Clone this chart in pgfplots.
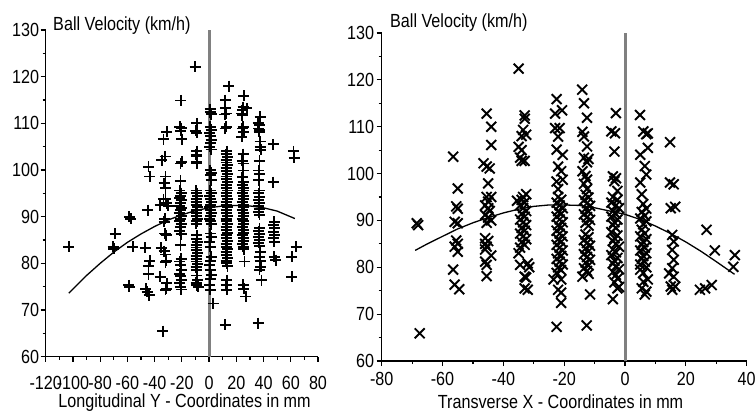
\documentclass[border=0pt]{standalone}
\usepackage{fontspec}
\setmainfont{Liberation Sans}[FakeStretch=0.85]
\usepackage{pgfplots}
\pgfplotsset{compat=1.18}
\definecolor{zerogray}{RGB}{128,128,128}
\newcommand{\bigf}{\fontsize{19bp}{22bp}\selectfont}
\begin{document}
\bigf
\begin{tikzpicture}
\path[use as bounding box] (0,0) rectangle (755bp,412bp);
\pgfplotsset{
  myax/.style={
    scale only axis,
    axis lines=left,
    axis line style={-, line width=1.5bp, black},
    tick align=outside,
    major tick length=5bp,
    minor tick length=3bp,
    every tick/.style={black, line width=1.2bp},
    /pgf/number format/assume math mode=true,
    tick label style={font=\bigf},
    label style={font=\bigf},
    ymin=60, ymax=130,
    ytick={60,70,...,130},
    minor y tick num=1,
    minor x tick num=1,
    clip=false,
  },
}
% ---------------- left panel ----------------
\begin{axis}[myax,
  at={(45.7bp,55.3bp)}, anchor=south west,
  width=272.3bp, height=326.7bp,
  xmin=-120, xmax=80,
  xtick={-120,-100,...,80},
  xticklabel style={yshift=-8bp},
  yticklabel style={xshift=5bp},
  xlabel={Longitudinal Y - Coordinates in mm},
  xlabel style={at={(axis description cs:0.51,-0.154)}, anchor=base},
]
\addplot[zerogray, line width=3bp] coordinates {(0,60) (0,130)};
\addplot[only marks, mark=+, mark size=5.5bp, mark options={line width=1.9bp, black}] coordinates {
(-103,83.6)
(-69,86.3) (-70.5,83.6) (-70,83.1)
(-58.5,90) (-57.5,89.6) (-56,83.6) (-59,75.3) (-58.5,75)
(-45,91.4) (-47,83.3) (-43.5,80.6) (-44.5,79.5) (-44.5,77.7) (-46.5,74.6) (-45.5,73.9) (-44,73.2) (-44.5,100.7) (-43.5,98.6)
(-36,92.5) (-31,92.9) (-30,92.3) (-33,88.9) (-32.5,89.6) (-32.5,86.4) (-32,86.2) (-31.5,86) (-35,83.3) (-33,82.6) (-32,81.9) (-31.5,80.6) (-32,80.2) (-36,77.1) (-31,75.7) (-31.5,74.6) (-32,74.3) (-34,65.5) (-31,108.2) (-33.5,106.6) (-32.3,102.9) (-34.8,102.1) (-32,98.6) (-33,97.2) (-32,96.1) (-33.5,93.7) (-32,93.7)
(-20.8,114.9) (-21.5,109.3) (-20.5,109) (-21,108.4) (-20,106.6) (-21,101.4) (-20,101.8) (-21,97.7) (-21.5,95.6) (-20.5,95) (-21,94.5) (-21.5,94) (-20.5,93.6) (-21,93) (-21.5,92.3) (-20.5,91.8) (-21,91.4) (-22,90.7) (-20.5,90.2) (-21,89.6) (-21.5,89) (-20.5,88.5) (-21,87.8) (-21.5,87) (-20.5,86.2) (-21,83.9) (-20.5,81) (-21.5,80.4) (-21,79.6) (-20.5,78.6) (-21.5,77.8) (-21,77.2) (-20.5,76.5) (-21.5,75.8) (-21,75) (-20.5,74.4)
(-10.3,122.1) (-9,110) (-10,108.4) (-9,108) (-9,104) (-9.5,103.3) (-9,102.9) (-9,101.8) (-9,101.4) (-9.5,95.6) (-9,95) (-8.5,94.4) (-9,93.8) (-9.5,93.2) (-9,92.6) (-8.5,92) (-9,91.4) (-9.5,90.8) (-9,90.2) (-8.5,89.6) (-9,89) (-9.5,88.5) (-9,86) (-9,85.3) (-8.5,84.6) (-9.5,84) (-9,83.4) (-9,82.8) (-8.5,82.2) (-9.5,81.6) (-9,81) (-9,80.4) (-8.5,79.8) (-9.5,79.2) (-9,78.6) (-9,77.4) (-8.5,76.4) (-9.5,75.8) (-9,75.3) (-8,75)
(0.7,113) (1,112.4) (1.5,112) (1,109.3) (1.5,108.6) (0.5,107.9) (1,107.2) (1.5,106.4) (1,105.7) (0.5,105) (1.5,104.4) (1,100) (1.5,99.4) (1,98.9) (1.5,97.8) (1,95.6) (1.5,95) (0.5,94.4) (1,93.8) (1.5,93.2) (1,92.6) (0.5,92) (1,91.4) (1.5,90.8) (1,90.2) (0.5,89.6) (1,89) (1.5,88.4) (1,86.4) (1.5,85.6) (0.5,84.6) (1,83.6) (1.5,81.4) (1,80.6) (0.5,79.6) (1,78.6) (1.5,77.6) (1,76.6) (0.5,75.4) (1,74.3) (3,71.4)
(14.6,118) (12,115) (12,113.2) (12.5,112.1) (11.5,111.9) (12.5,109.3) (12,108.9) (13,104) (12.5,103.4) (13.5,102.8) (12.5,102.2) (13,101.6) (13.5,101) (12.5,100.4) (13,99.8) (13.5,99.2) (12.5,98.6) (13,98) (13.5,97.4) (12.5,96.8) (13,96.2) (13.5,95.6) (12.5,95) (13,94.4) (13.5,93.8) (12.5,93.2) (13,92.6) (13.5,92) (12.5,91.4) (13,90.8) (13.5,90.2) (12.5,89.6) (13,89) (13.5,88.4) (12.5,87.8) (13,87.2) (13.5,86.6) (12.5,86) (13,85.4) (13.5,84.8) (12.5,84.2) (13,83.6) (13.5,83) (12.5,82.4) (13,81.8) (13.5,81.2) (12.5,80.6) (13,80) (13.5,79.4) (13,76.4) (12.5,75.3) (13,74.3) (12,66.8)
(25.4,115.9) (27.6,113.2) (25,113.5) (24.5,112.8) (24,112.1) (24.5,111.7) (25,109.3) (24.5,108.9) (25.5,108.2) (24,107.1) (25,103.4) (24.5,102) (25,101.4) (25,99.9) (24.5,98.5) (25,97.4) (24.5,96.8) (25.5,96.2) (25,95.6) (24.5,95) (25,94.4) (25.5,93.8) (24.5,93.2) (25,92.6) (25.5,92) (24.5,91.4) (25,90.8) (25.5,90.2) (24.5,89.6) (25,89) (25.5,88.4) (24.5,87.8) (25,87.2) (25.5,86.6) (24.5,86) (25,85.4) (25.5,84.8) (24.5,84.2) (25,83.6) (25.5,83) (26,80.4) (25,75.4) (25.5,74.6) (27,72.9)
(37.4,111.4) (36.7,109.7) (36,110) (36.5,108.9) (36.7,108.2) (37,108.6) (37.4,106.1) (37.4,105) (38,104.3) (37,102) (36.5,99.9) (37,99.2) (36.5,97.8) (37,95.6) (36.5,95) (37,94.3) (36.5,93.6) (37,93) (36.5,92.3) (37,91.6) (36.5,91) (37,90.4) (37,87.5) (36.5,86.9) (37,86.2) (36.5,85.6) (37,85) (36.5,84.4) (37,83.8) (37.5,82.5) (37,81.4) (37.5,80.6) (38,79.3) (37,78.6) (38.5,76.4) (36,67.2)
(47.2,105.5) (47.2,97.4) (48,88.9) (47.5,88.2) (48,87.5) (47.5,86.8) (48,86.1) (47.5,85.4) (48,84.6) (48,81.4) (49,80.7)
(62,104) (62.5,102.6) (63.9,83.6) (60.7,81.4) (60.7,77.1)
};
\addplot[black, line width=1.3bp] coordinates {
(-103,73.6) (-100,74.5) (-90,77.4) (-80,80.0) (-70,82.4) (-60,84.5) (-50,86.3) (-40,87.9) (-30,89.3) (-20,90.4) (-10,91.3) (0,91.9) (10,92.3) (20,92.4) (30,92.3) (40,91.9) (50,91.2) (63,89.6)
};
\node[anchor=base west, font=\bigf, inner sep=0pt] at (rel axis cs:0.027,0.998) {Ball Velocity (km/h)};
\end{axis}
% ---------------- right panel ----------------
\begin{axis}[myax,
  at={(381.7bp,51bp)}, anchor=south west,
  width=365bp, height=328bp,
  xmin=-80, xmax=40,
  xtick={-80,-60,...,40},
  yticklabel style={xshift=4bp},
  xlabel={Transverse X - Coordinates in mm},
  xlabel style={at={(axis description cs:0.49,-0.146)}, anchor=base},
]
\addplot[zerogray, line width=3bp] coordinates {(0,60) (0,130)};
\addplot[only marks, mark=x, mark size=7bp, mark options={line width=1.9bp, black}] coordinates {
(-68.5,89.4) (-68,89) (-67.5,65.9)
(-56.5,103.6) (-55,96.8) (-55.5,93) (-55,92.5) (-56,89.7) (-55,89.4) (-55.5,85.7) (-55,85) (-56,84.4) (-55,83.3) (-56.5,79.5) (-56,76.3) (-54.5,75.3)
(-45.5,112.8) (-44,110) (-44,106.1) (-46.5,102.2) (-45.5,101.5) (-44.5,101.1) (-45,97.9) (-45.5,95) (-44,95) (-45,94) (-46,93.2) (-45,92.6) (-44.5,92) (-46,91.2) (-45,90.6) (-44,90) (-45.5,89.5) (-46,86.2) (-45,85.6) (-46,85) (-45.5,84.4) (-46,83.8) (-44,82.5) (-46,81.2) (-45.5,80.5) (-45.5,78.1)
(-35,122.4) (-33,112.4) (-33,111.7) (-33.5,109.3) (-32.5,108.3) (-34,108) (-35,105.7) (-34,105) (-34.5,103.4) (-34,102.7) (-33,102.7) (-35.5,94.2) (-33.5,95) (-32.5,95.6)
(-34,94.4) (-33,93.8) (-34.5,93.2) (-33.5,92.6) (-32.5,92) (-34,91.4) (-33,90.8) (-34.5,90.2) (-33.5,89.6) (-32.5,89) (-34,88.4) (-33,87.8) (-34.5,87.2) (-33.5,86.6) (-32.5,86) (-34,85.4) (-33,84.8) (-34.5,84.2)
(-35,83) (-34.5,80.5) (-32,80.8) (-31.5,80) (-33,78) (-32.5,77.8) (-33,75.5) (-32,75.2)
(-22.5,115.9) (-23,112.8) (-20.7,113.5) (-23,109.7) (-21.5,109.7) (-22,107.9) (-22.5,105.1) (-20.5,104) (-22,101.5) (-21,100.5) (-22.5,98.3) (-20.5,98.7) (-22,96.7)
(-22,95) (-21,94.4) (-22.5,93.8) (-21.5,93.2) (-20.5,92.6) (-22,92) (-21,91.4) (-22.5,90.8) (-21.5,90.2) (-20.5,89.6) (-22,89) (-21,88.4) (-22.5,87.8) (-21.5,87.2) (-20.5,86.6) (-22,86) (-21,85.4) (-22.5,84.8) (-21.5,84.2) (-20.5,83.6) (-22,83) (-21,82.4) (-22.5,81.8) (-21.5,81.2) (-20.5,80.6) (-22,80) (-21,79.4) (-22.5,78.8)
(-23.5,77.4) (-21,77.4) (-22,75.2) (-21,74.6) (-21,72.4) (-22.5,67.3)
(-14.1,117.9) (-13.5,115) (-12.5,111.9) (-14,108.9) (-13.5,107.9) (-12.5,105.8) (-13.5,103.4) (-12,103.1) (-12.5,102.4) (-14,100.5) (-13,99.5) (-12.5,98.7) (-13.5,97.8) (-12.5,96.7)
(-13,95.5) (-12,94.9) (-13.5,94.3) (-12.5,93.7) (-11.5,93.1) (-13,92.5) (-12,91.9) (-13.5,91.3) (-12.5,90.7) (-11.5,90.1) (-13,89.5) (-12,88.9)
(-13,87) (-12,86.4) (-13.5,85.8) (-12.5,85.2) (-11.5,84.6) (-13,84) (-12,83.4) (-13.5,82.8) (-12.5,82.2) (-11.5,81.6) (-13,81) (-12,80.4) (-13.5,79.8) (-12.5,79.2) (-12,78.6) (-14,78) (-11.5,74.2) (-12.6,67.6)
(-3,112.9) (-4.5,109) (-3.3,108.6) (-3.5,104.7) (-4,99.4) (-3,99) (-3.5,98.4) (-2.5,96.3)
(-4,95) (-2.5,94.4) (-4.5,93.8) (-3,93.2) (-2,92.6) (-4,92) (-3,91.4) (-4.5,90.8) (-2.5,90.2) (-3.5,89.6) (-4,89) (-3,88.4) (-4.5,87.5) (-2.5,86.8) (-3.5,86.2) (-4,85.6) (-3,85) (-2,84.4) (-4,83.8) (-3,83.2) (-4.5,82.6) (-2.5,82) (-3.5,81.4) (-4,80.8) (-3,80.2) (-2,79.6) (-4,79) (-3,78.4) (-2.5,77.6) (-3.5,76.8) (-2,75.8) (-2.5,75.5) (-4,73.2)
(4.9,112.5) (6,109) (7,108.4) (7.5,108.6) (7.5,105.5) (5,104) (6.5,101.6) (7,99.8) (5,98.1) (5.5,95.6)
(6,93.5) (7,92.5) (5.5,91.8) (6.5,91) (5,90.4) (7,89.8) (6,89.2) (5.5,88) (6.5,87.2) (5,86.6) (7,86) (6,85.4) (5.5,84.8) (6.5,84.2) (5,83.6) (7,83) (6,82.4) (5.5,81.8) (6.5,81.2) (5,80.6) (7,80) (5,79.5) (6,78.8) (7.5,77.4) (6,76.9) (5.5,75.5) (7,74.8) (6.5,74.2)
(14.8,106.7) (14.8,98.1) (16,97.7) (15,92.6) (16.5,92.9) (15.5,86.9) (16,85.5) (15.5,83.7) (16,81.6) (15.5,79.8) (14.5,78.7) (16,78) (15,75.9) (16.5,75.9) (15.5,75.2)
(26.8,88) (29.5,83.6) (36.1,82.6) (35.6,80.1) (24.6,75.2) (26.3,75.5) (28.5,76.2)
};
\addplot[black, line width=1.3bp] coordinates {
(-69,83.6) (-65,85.0) (-60,86.6) (-55,88.2) (-50,89.5) (-45,90.6) (-40,91.6) (-35,92.4) (-30,93.0) (-25,93.3) (-20,93.3) (-15,93.2) (-10,92.7) (-5,92.0) (0,91.3) (5,90.2) (10,88.8) (15,87.2) (20,85.4) (25,83.4) (30,81.2) (36,78.5)
};
\node[anchor=base west, font=\bigf, inner sep=0pt] at (rel axis cs:0.0227,1.017) {Ball Velocity (km/h)};
\end{axis}
\end{tikzpicture}
\end{document}
